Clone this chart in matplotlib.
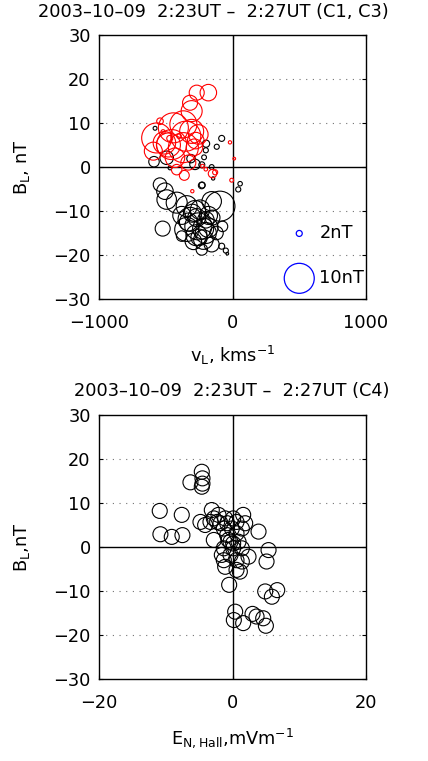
import numpy as np
import matplotlib
matplotlib.use("Agg")
import matplotlib.pyplot as plt

plt.rcParams['font.family'] = ['DejaVu Sans']
plt.rcParams['font.size'] = 12.8
plt.rcParams['mathtext.default'] = 'regular'

# C3 (red): v_L [km/s], B_L [nT], circle size [nT]
rv = [-268, -181, -318, -306, -568, -543, -443, -368, -306, -256,
      -456, -368, -593, -431, -510, -331, -418, -275, -285, -19,
      13, -225, -200, -361, -150, -130, -6, -301, -520, -400, -470,
      -350, -480]
rb = [16.9, 16.9, 14.6, 12.7, 6.6, 10.4, 8.9, 9.7, 8.1, 7.4,
      5.1, 4.4, 3.6, 2.1, 5.5, 1.0, -0.6, 6.0, 4.5, 5.6,
      1.9, 0.2, -0.5, -1.9, -1.5, -1.2, -3.0, -5.5, 8.0, 7.0, 6.5,
      7.0, 5.0]
rs = [5, 5.5, 5, 7, 10, 2.2, 10, 9, 8, 6.5,
      10, 10, 6, 6.5, 7.5, 5, 3.5, 5.5, 5.5, 1.1,
      0.9, 1.2, 1.2, 3.3, 2.8, 1.7, 1.3, 1.1, 1.4, 1.5, 2,
      10, 8]

# C1 (black)
kv = [-580, -81, -118, -198, -200, -213, -588, -493, -468, -311,
      -281, -230, -156, -543, -506, -493, -523, -418, -343, -243,
      -94, -156, -231, -318, -256, -343, -181, -218, -293, -156,
      -230, -120, -81, -50, -39, -381, -75, -380, -268, -200,
      43, 57, -145, -227, -300, -200, -250, -330, -150, -270,
      -280, -180, -220]
kb = [8.8, 6.5, 4.6, 5.3, 3.8, 2.2, 1.2, 2.1, -0.2, 1.9,
      0.6, 0.5, 0.0, -4.0, -5.5, -7.4, -14.0, -8.1, -8.9, -9.7,
      -8.9, -7.8, -4.2, -11.9, -13.5, -14.2, -13.8, -16.5, -16.9, -17.6,
      -18.75, -15.0, -18.0, -19.0, -19.7, -15.7, -13.5, -11.0, -11.5, -12.0,
      -5.1, -3.8, -2.6, -4.1, -10.5, -15.0, -16.0, -12.5, -11.5, -15.5,
      -10.0, -11.0, -14.0]
ks = [1.3, 2, 1.7, 2.4, 1.7, 1.6, 3.5, 4.5, 1.3, 2.8,
      3.5, 2, 1.6, 4.5, 5.5, 6.5, 5, 7, 7, 6.5,
      10, 6.5, 2.2, 8, 9, 8, 6.5, 6.5, 5.5, 5,
      3.8, 4.5, 2, 1.7, 0.9, 3.5, 3.5, 6, 6, 5.5,
      1.7, 1.5, 1.1, 2, 6, 7, 5.5, 6, 5, 7,
      7, 6, 7]

# C4: E_N,Hall [mV/m], B_L [nT]
ex = [-10.9, -10.8, -9.1, -7.5, -7.6, -6.3, -4.6, -4.5, -4.5, -4.6,
      -4.8, -4.1, -3.1, -2.8, -2.1, -1.8, -1.1, 0.1, 1.6, 1.9,
      1.4, 3.9, -0.8, -0.3, -1.3, 0.1, 1.4, -1.6, 2.4, -1.3,
      0.6, 1.4, -1.1, 0.6, 1.1, -0.5, 5.4, 5.1, 4.9, 5.9,
      6.7, 0.4, 0.2, 1.6, 3.0, 3.6, 4.6, 5.0, -3.3, -2.8,
      -2.3, -1.3, -0.8, 0.6, -0.1, 0.6, -0.6, 0.1, 0.9, -0.3]
eb = [8.2, 2.9, 2.3, 2.7, 7.3, 14.7, 17.1, 15.6, 14.4, 13.7,
      5.7, 5.0, 8.4, 1.6, 7.3, 5.4, 6.5, 6.5, 7.3, 5.4,
      4.2, 3.5, 2.7, 1.2, -0.3, -0.3, -0.3, -1.8, -2.2, -3.0,
      -3.0, -3.3, -4.5, -5.2, -5.6, -8.6, -0.7, -3.3, -10.1, -11.3,
      -9.8, -14.7, -16.6, -17.3, -15.2, -15.8, -16.2, -17.9, 5.7, 6.5,
      5.7, 4.2, 5.4, 5.7, 4.2, 3.1, 1.6, 0.8, 1.2, -1.8]

leg_sizes = [2, 10]
leg_v = [500, 500]
leg_b = [-15.1, -25.3]

PT_PER_NT = 2.16


def style_axes(ax, xlim, xticks):
    ax.set_xlim(xlim)
    ax.set_ylim(-30, 30)
    ax.set_xticks(xticks)
    ax.set_yticks([-30, -20, -10, 0, 10, 20, 30])
    ax.axhline(0, color='k', lw=1.0, zorder=1)
    ax.axvline(0, color='k', lw=1.0, zorder=1)
    for yy in [-20, -10, 10, 20]:
        ax.axhline(yy, color='0.45', lw=0.8, linestyle=(0, (1, 5)), zorder=0)
    ax.tick_params(direction='in', length=3, top=True, right=True, width=0.8)
    ax.tick_params(axis='y', pad=6)
    ax.tick_params(axis='x', pad=11)
    for s in ax.spines.values():
        s.set_linewidth(1.0)


fig = plt.figure(figsize=(4.28, 7.61), dpi=100)

ax1 = fig.add_axes([99/428, 1 - 299/761, 267/428, 264/761])
ax1.scatter(kv, kb, s=(PT_PER_NT*np.array(ks))**2, facecolors='none',
            edgecolors='k', linewidths=0.8, zorder=3)
ax1.scatter(rv, rb, s=(PT_PER_NT*np.array(rs))**2, facecolors='none',
            edgecolors='red', linewidths=0.8, zorder=4)
ax1.scatter(leg_v, leg_b, s=(PT_PER_NT*np.array(leg_sizes))**2,
            facecolors='none', edgecolors='blue', linewidths=0.9, zorder=4)
for v, b, n in zip(leg_v, leg_b, leg_sizes):
    ax1.text(v + 150, b, f"{n}nT", va='center', ha='left')
style_axes(ax1, (-1000, 1000), [-1000, 0, 1000])
ax1.set_xlabel("v$_L$, kms$^{-1}$")
ax1.set_ylabel("B$_L$, nT")
ax1.yaxis.set_label_coords(-0.25, 0.5)
ax1.xaxis.set_label_coords(0.5, -0.17)
fig.text(38/428, 1 - 12/761, "2003\u201310\u201309  2:23UT \u2013  2:27UT (C1, C3)",
         ha='left', va='center')

ax2 = fig.add_axes([99/428, 1 - 679/761, 267/428, 264/761])
ax2.scatter(ex, eb, s=10.8**2, facecolors='none', edgecolors='k',
            linewidths=0.8, zorder=3)
style_axes(ax2, (-20, 20), [-20, 0, 20])
ax2.set_xlabel("E$_{N,Hall}$,mVm$^{-1}$")
ax2.set_ylabel("B$_L$,nT")
ax2.yaxis.set_label_coords(-0.25, 0.5)
ax2.xaxis.set_label_coords(0.5, -0.18)
fig.text(232/428, 1 - 391/761, "2003\u201310\u201309  2:23UT \u2013  2:27UT (C4)",
         ha='center', va='center')

fig.savefig("out.png", dpi=100)
